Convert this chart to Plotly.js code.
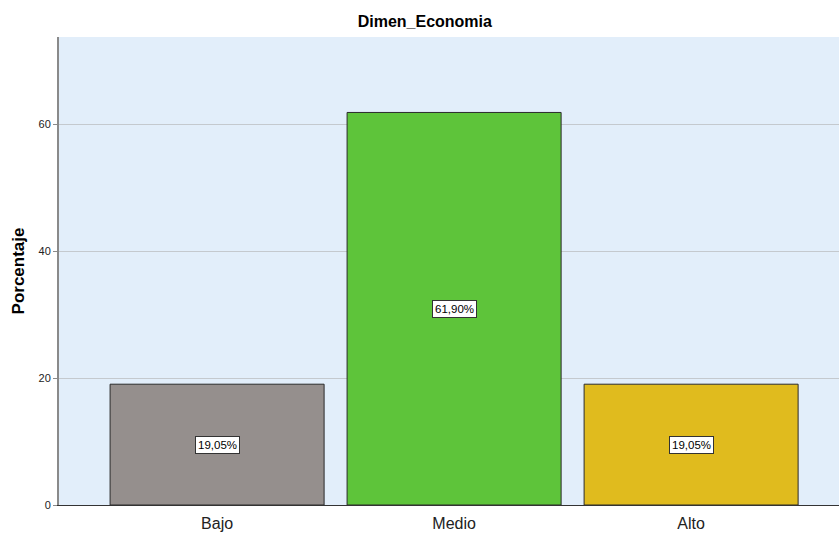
<!DOCTYPE html>
<html>
<head>
<meta charset="utf-8">
<script src="https://cdn.plot.ly/plotly-3.0.1.min.js"></script>
<style>html,body{margin:0;padding:0;background:#fff;}#chart{width:839px;height:533px;}</style>
</head>
<body>
<div id="chart"></div>
<script>
const categories = ["Bajo", "Medio", "Alto"];
const percentages = [19.05, 61.90, 19.05];
const valueLabels = ["19,05%", "61,90%", "19,05%"];
const barColors = ["#958f8d", "#5ec43a", "#e0bb1e"];

const trace = {
  type: "bar",
  x: [0, 1, 2],
  y: percentages,
  width: 0.903,
  marker: {color: barColors, line: {color: "#2a2a2a", width: 1}},
  hoverinfo: "none"
};

const annotations = categories.map((c, i) => ({
  x: i, y: percentages[i] / 2, xref: "x", yref: "y",
  text: valueLabels[i], showarrow: false,
  bgcolor: "#ffffff", bordercolor: "#333333", borderwidth: 1, borderpad: 2,
  font: {family: "Liberation Sans, Arial, sans-serif", size: 11.5, color: "#000"}
}));

const layout = {
  width: 839, height: 533,
  margin: {l: 59, r: 0, t: 37, b: 28},
  paper_bgcolor: "#ffffff",
  plot_bgcolor: "#e2eefa",
  showlegend: false,
  title: {
    text: "<b>Dimen_Economia</b>",
    font: {family: "Liberation Sans, Arial, sans-serif", size: 16, color: "#000"},
    x: 0.469, xref: "paper", xanchor: "center", y: 0.96, yref: "container", yanchor: "middle"
  },
  xaxis: {
    range: [-0.667, 2.624],
    tickvals: [0, 1, 2], ticktext: categories,
    showgrid: false, zeroline: false,
    showline: true, linecolor: "#333333", linewidth: 1,
    ticks: "", ticklabelstandoff: 4,
    tickfont: {family: "Liberation Sans, Arial, sans-serif", size: 16, color: "#222"},
    fixedrange: true
  },
  yaxis: {
    range: [0, 73.8],
    tickvals: [0, 20, 40, 60],
    showgrid: true, gridcolor: "#c4c9ce", gridwidth: 1,
    zeroline: false,
    showline: true, linecolor: "#8a8a8a", linewidth: 2,
    ticks: "outside", ticklen: 4, tickcolor: "#8a8a8a",
    tickfont: {family: "Liberation Sans, Arial, sans-serif", size: 11, color: "#222"},
    title: {text: "<b>Porcentaje</b>", font: {family: "Liberation Sans, Arial, sans-serif", size: 17, color: "#000"}, standoff: 10},
    fixedrange: true
  },
  annotations: annotations
};

Plotly.newPlot("chart", [trace], layout, {displayModeBar: false, staticPlot: true});
</script>
</body>
</html>
